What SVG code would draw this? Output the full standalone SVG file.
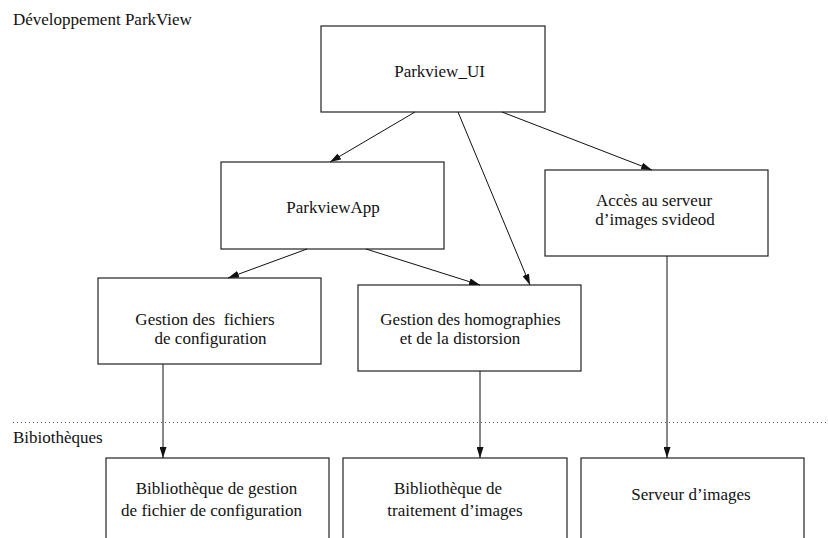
<svg xmlns="http://www.w3.org/2000/svg" width="828" height="538" viewBox="0 0 828 538">
<style>
  .box { fill: #fff; stroke: #222; stroke-width: 1.2; }
  .t { font-family: "Liberation Serif", "Times New Roman", serif; font-size: 17px; fill: #111; }
  .c { text-anchor: middle; }
  .edge { stroke: #111; stroke-width: 1; fill: none; marker-end: url(#arr); }
  .sep { stroke: #555; stroke-width: 1; stroke-dasharray: 1 3; }
</style>
<defs>
  <marker id="arr" markerWidth="11" markerHeight="7" refX="11" refY="3.5" orient="auto" markerUnits="userSpaceOnUse">
    <path d="M0,0 L11,3.5 L0,7 z" fill="#111"/>
  </marker>
</defs>
<rect width="828" height="538" fill="#fff"/>

<text class="t" x="13" y="25">Développement ParkView</text>
<line class="sep" x1="13" y1="422.5" x2="828" y2="422.5"/>
<text class="t" x="13" y="443">Bibiothèques</text>

<g id="parkview_ui">
  <rect class="box" x="321" y="26" width="224" height="86"/>
  <text class="t c" x="439.5" y="77">Parkview_UI</text>
</g>
<g id="parkviewapp">
  <rect class="box" x="221" y="162" width="223" height="87"/>
  <text class="t c" x="333" y="213">ParkviewApp</text>
</g>
<g id="acces">
  <rect class="box" x="545" y="170" width="223" height="86"/>
  <text class="t c" x="654" y="206">Accès au serveur</text>
  <text class="t c" x="655" y="225">d’images svideod</text>
</g>
<g id="gestion_fichiers">
  <rect class="box" x="98" y="278" width="223" height="86"/>
  <text class="t c" x="205" y="325" xml:space="preserve">Gestion des  fichiers</text>
  <text class="t c" x="210.5" y="344">de configuration</text>
</g>
<g id="gestion_homographies">
  <rect class="box" x="358" y="285" width="223" height="86"/>
  <text class="t c" x="470.5" y="325">Gestion des homographies</text>
  <text class="t c" x="460" y="344">et de la distorsion</text>
</g>
<g id="bib_config">
  <rect class="box" x="106" y="458" width="223" height="100"/>
  <text class="t c" x="216.5" y="494">Bibliothèque de gestion</text>
  <text class="t c" x="211.5" y="516">de fichier de configuration</text>
</g>
<g id="bib_images">
  <rect class="box" x="343" y="458" width="224" height="100"/>
  <text class="t c" x="448" y="494">Bibliothèque de</text>
  <text class="t c" x="455" y="516">traitement d’images</text>
</g>
<g id="serveur_images">
  <rect class="box" x="581" y="458" width="223" height="100"/>
  <text class="t c" x="691" y="500">Serveur d’images</text>
</g>

<g id="connectors">
  <line class="edge" x1="415" y1="112" x2="330" y2="162"/>
  <line class="edge" x1="458" y1="112" x2="530" y2="285"/>
  <line class="edge" x1="502" y1="112" x2="652" y2="170"/>
  <line class="edge" x1="307" y1="249" x2="228" y2="278"/>
  <line class="edge" x1="366" y1="249" x2="480" y2="285"/>
  <line class="edge" x1="163" y1="364" x2="163" y2="458"/>
  <line class="edge" x1="480" y1="371" x2="480" y2="458"/>
  <line class="edge" x1="667" y1="256" x2="667" y2="458"/>
</g>
</svg>
